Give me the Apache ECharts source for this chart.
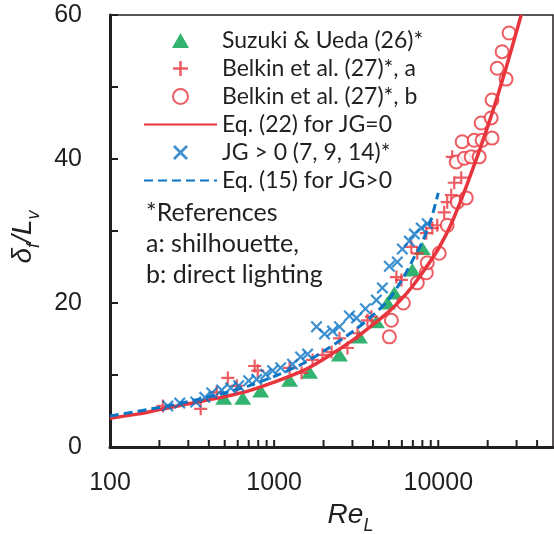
<!DOCTYPE html>
<html><head><meta charset="utf-8">
<script src="https://cdn.jsdelivr.net/npm/echarts@6/dist/echarts.min.js"></script>
<style>html,body{margin:0;padding:0;background:#fff}#c{width:554px;height:534px}</style>
</head><body><div id="c"></div>
<script>
// ---- data ----
const suzukiRe  = [493, 644, 828, 1242, 1644, 2500, 3311, 4200, 4900, 5400, 6950, 8000];
const suzukiVal = [6.8, 6.8, 7.8, 9.3, 10.4, 12.8, 15.3, 17.4, 20.0, 21.4, 24.6, 27.6];

const belkinARe  = [210, 357, 447, 522, 592, 761, 794, 1243, 1469, 1714, 1972, 2238, 2502, 2798, 3220, 3701, 3915, 5556, 5960, 6853, 7452, 8454, 9200, 9860, 10870, 11340, 11990, 12510, 13800, 12160];
const belkinAVal = [5.7, 5.3, 7.6, 9.6, 8.5, 11.25, 10.6, 11.0, 10.3, 12.1, 12.8, 13.2, 15.1, 13.75, 15.8, 17.6, 18.1, 23.6, 23.2, 27.8, 26.9, 29.7, 30.4, 30.8, 32.6, 34.0, 35.0, 36.7, 37.4, 40.3];

const belkinBRe  = [5036, 5180, 6125, 7450, 8454, 8570, 10140, 11340, 13060, 14800, 12860, 14390, 15870, 17750, 13990, 16550, 18500, 21270, 18250, 21000, 21270, 25880, 22850, 24500, 27000];
const belkinBVal = [15.3, 17.6, 20.0, 22.8, 24.2, 25.6, 26.9, 30.8, 34.0, 34.6, 39.6, 40.1, 40.3, 40.3, 42.4, 42.6, 42.6, 42.9, 45.0, 45.7, 48.2, 51.1, 52.6, 54.9, 57.5];

const eq22Re  = [100, 150, 200, 300, 500, 700, 1000, 1500, 2000, 3000, 4000, 5000, 6000, 7000, 8000, 10000, 12000, 15000, 20000, 25000, 32000];
const eq22Val = [4.0, 4.6, 5.2, 6.0, 7.0, 7.8, 9.0, 10.6, 12.2, 14.8, 17.0, 18.8, 20.6, 22.4, 24.2, 27.5, 31.0, 36.5, 44.5, 51.5, 60];

const jgRe  = [225, 266, 333, 378, 417, 479, 544, 608, 700, 783, 888, 979, 1096, 1295, 1449, 1599, 1813, 2028, 2268, 2502, 2877, 3175, 3599, 4198, 4566, 5036, 5633, 6041, 6664, 7147, 7880, 8570];
const jgVal = [5.7, 6.1, 6.25, 6.9, 7.5, 7.9, 8.2, 8.5, 9.2, 9.4, 10.1, 10.6, 11.0, 11.5, 12.5, 12.9, 16.7, 15.7, 16.1, 16.7, 18.2, 17.9, 19.2, 20.4, 22.1, 25.1, 25.7, 27.5, 28.6, 29.6, 30.4, 31.0];

const eq15Re  = [100, 200, 300, 500, 700, 1000, 1500, 2000, 3000, 4000, 5000, 6000, 7000, 8000, 9000, 10000];
const eq15Val = [4.3, 5.5, 6.3, 7.5, 8.5, 9.8, 11.6, 13.3, 16.0, 18.3, 20.5, 23.2, 26.0, 28.5, 31.5, 35.3];

const xTickValues = [200,300,400,500,600,700,800,900,1000,2000,3000,4000,5000,6000,7000,8000,9000,10000,20000,30000,40000];
const xLabelValues = [100, 1000, 10000];
const yLabelValues = [0, 20, 40, 60];

const names = ['Suzuki & Ueda (26)*', 'Belkin et al. (27)*, a', 'Belkin et al. (27)*, b', 'Eq. (22) for JG=0', 'JG > 0 (7, 9, 14)*', 'Eq. (15) for JG>0'];
const notes = ['*References', 'a: shilhouette,', 'b: direct lighting'];

// ---- styling ----
const FONT = 'Lato';
const AXFONT = 'Liberation Sans';
const INK = '#231f20';
const RED = '#e8343c';
const GREEN = '#00a04c';
const BLUE = '#0b74c4';
const triPath = 'path://M8.5,0L17,15L0,15Z';
const plusPath = 'path://M4.15,0h1.7v10h-1.7z M0,4.15h10v1.7h-10z';
const xPath = 'path://M0,1.3L1.3,0L5,3.7L8.7,0L10,1.3L6.3,5L10,8.7L8.7,10L5,6.3L1.3,10L0,8.7L3.7,5Z';
const zip = (a, b) => a.map((v, i) => [v, b[i]]);
const titleRich = {
  i: {fontSize: 28, fontStyle: 'italic', fontFamily: AXFONT, color: INK, lineHeight: 40},
  s: {fontSize: 18, fontStyle: 'italic', fontFamily: AXFONT, color: INK, lineHeight: 18, verticalAlign: 'bottom'}
};

const chart = echarts.init(document.getElementById('c'), null, {renderer: 'canvas'});
chart.setOption({
  animation: false,
  textStyle: {fontFamily: FONT, color: INK},
  grid: {left: 110, right: 1, top: 15, bottom: 87, show: true, borderColor: INK, borderWidth: 1.5,
         containLabel: false, outerBoundsMode: 'none'},
  xAxis: {
    type: 'log', logBase: 10, min: 100, max: 50000,
    axisLine: {lineStyle: {color: INK, width: 3}},
    axisTick: {show: false},
    splitLine: {show: false},
    axisLabel: {
      fontSize: 25, color: INK, fontFamily: AXFONT, margin: 24,
      showMaxLabel: false,
      formatter: v => { const t = xLabelValues.find(t => Math.abs(v - t) < 1e-6 * t); return t ? String(t) : ''; }
    },
    name: '{i|Re}{s|L}', nameLocation: 'middle', nameGap: 48,
    nameTextStyle: {rich: titleRich, padding: [0, 0, 0, 38]}
  },
  yAxis: {
    type: 'value', min: 0, max: 60, interval: 10,
    axisLine: {show: true, lineStyle: {color: INK, width: 3}},
    axisTick: {show: true, inside: true, length: 8, lineStyle: {color: INK, width: 2}},
    splitLine: {show: false},
    axisLabel: {
      fontSize: 25, color: INK, fontFamily: AXFONT, margin: 28,
      formatter: v => (yLabelValues.indexOf(v) >= 0 ? String(v) : '')
    },
    name: '{i|δ}{s|f}{i|/L}{s|v}', nameLocation: 'middle', nameGap: 62, nameRotate: 90,
    nameTextStyle: {rich: titleRich, padding: [0, 12, 0, 0]}
  },
  legend: {
    orient: 'vertical', left: 138, top: 24,
    itemWidth: 73, itemHeight: 15, itemGap: 5,
    textStyle: {fontSize: 23, color: INK, fontFamily: FONT, lineHeight: 22},
    data: names.map((n, i) => (i === 3 || i === 5) ? {name: n, itemStyle: {opacity: 0}} : {name: n})
  },
  graphic: notes.map((t, i) => ({
    type: 'text', x: 146, y: [213, 244, 275][i],
    style: {text: t, fontSize: 25, fontFamily: FONT, fill: INK, verticalAlign: 'middle'}
  })),
  series: [
    {name: names[0], type: 'scatter', data: zip(suzukiRe, suzukiVal), symbol: triPath, symbolSize: [17, 15],
     symbolKeepAspect: true, itemStyle: {color: GREEN}, z: 2},
    {name: names[1], type: 'scatter', data: zip(belkinARe, belkinAVal), symbol: plusPath, symbolSize: 13,
     symbolKeepAspect: true, itemStyle: {color: RED}, z: 3},
    {name: names[2], type: 'scatter', data: zip(belkinBRe, belkinBVal), symbol: 'emptyCircle', symbolSize: 13,
     symbolKeepAspect: true, itemStyle: {color: RED, borderColor: RED, borderWidth: 1.8}, z: 3},
    {name: names[3], type: 'line', data: zip(eq22Re, eq22Val), showSymbol: false, symbol: 'none', smooth: 0.3,
     lineStyle: {color: RED, width: 3.5}, itemStyle: {color: RED, opacity: 0}, z: 4},
    {name: names[4], type: 'scatter', data: zip(jgRe, jgVal), symbol: xPath, symbolSize: 12,
     symbolKeepAspect: true, itemStyle: {color: BLUE}, z: 5},
    {name: names[5], type: 'line', data: zip(eq15Re, eq15Val), showSymbol: false, symbol: 'none', smooth: 0.3,
     lineStyle: {color: BLUE, width: 3, type: [9, 5]}, itemStyle: {color: BLUE, opacity: 0}, z: 6},
    {type: 'custom', silent: true, z: 10, clip: false,
     data: xTickValues.map(v => [v, 0]),
     renderItem: (params, api) => {
       const p = api.coord([api.value(0), 0]);
       return {type: 'line', shape: {x1: p[0], y1: p[1], x2: p[0], y2: p[1] - 7}, style: {stroke: INK, lineWidth: 2}};
     }}
  ]
});
</script></body></html>
